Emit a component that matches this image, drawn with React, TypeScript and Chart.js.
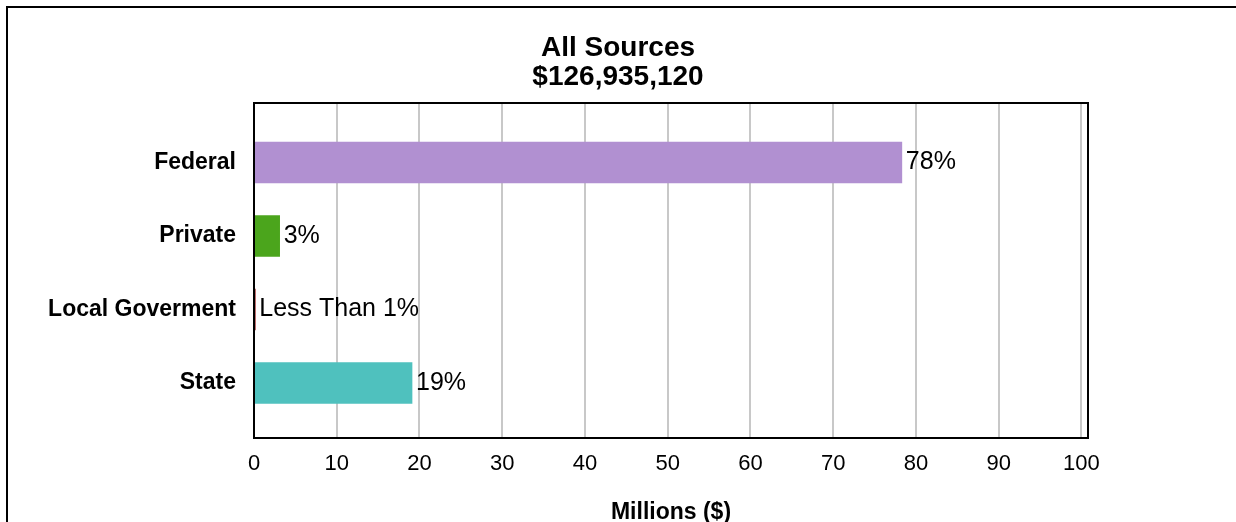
import React, { useEffect, useRef } from "react";
import { Chart, registerables } from "chart.js";

Chart.register(...registerables);

const categories = ["Federal", "Private", "Local Goverment", "State"];
const values = [78.3, 3.1, 0.15, 19.1];
const valueLabels = ["78%", "3%", "Less Than 1%", "19%"];
const barColors = ["#B190D1", "#4BA51C", "#8B0000", "#4FC1BE"];
const xTicks = [0, 10, 20, 30, 40, 50, 60, 70, 80, 90, 100];
const titleLines = ["All Sources", "$126,935,120"];
const xAxisTitle = "Millions ($)";

const FONT = "'Liberation Sans', Arial, sans-serif";

export default function App() {
  const ref = useRef<HTMLCanvasElement | null>(null);

  useEffect(() => {
    const canvas = ref.current;
    if (!canvas) return;

    const decor = {
      id: "decor",
      beforeDraw(chart: any) {
        const ctx = chart.ctx;
        ctx.save();
        ctx.fillStyle = "#ffffff";
        ctx.fillRect(0, 0, chart.width, chart.height);
        ctx.fillStyle = "#000000";
        ctx.fillRect(6, 6, chart.width, 2);
        ctx.fillRect(6, 6, 2, chart.height);
        ctx.restore();
      },
      afterDatasetsDraw(chart: any) {
        const ctx = chart.ctx;
        const a = chart.chartArea;
        ctx.save();
        ctx.strokeStyle = "#000000";
        ctx.lineWidth = 2;
        ctx.strokeRect(a.left, a.top, a.right - a.left, a.bottom - a.top);
        // data labels
        const meta = chart.getDatasetMeta(0);
        ctx.fillStyle = "#000000";
        ctx.font = `25px ${FONT}`;
        ctx.textAlign = "left";
        ctx.textBaseline = "middle";
        meta.data.forEach((bar: any, i: number) => {
          ctx.fillText(valueLabels[i], bar.x + 4, bar.y);
        });
        // title
        ctx.font = `bold 28px ${FONT}`;
        ctx.textAlign = "center";
        ctx.fillText(titleLines[0], chart.width / 2, 48);
        ctx.fillText(titleLines[1], chart.width / 2, 77);
        // x axis title
        ctx.font = `bold 23px ${FONT}`;
        ctx.fillText(xAxisTitle, (a.left + a.right) / 2, 513);
        ctx.restore();
      },
    };

    const chart = new Chart(canvas, {
      type: "bar",
      data: {
        datasets: [
          {
            data: values.map((v, i) => ({ x: v, y: i })),
            backgroundColor: barColors,
            borderWidth: 0,
            barThickness: 41,
          },
        ],
      },
      options: {
        indexAxis: "y",
        responsive: false,
        animation: false,
        layout: { padding: { left: 0, top: 103, right: 148, bottom: 0 } },
        plugins: {
          legend: { display: false },
          title: { display: false },
          tooltip: { enabled: false },
        },
        scales: {
          x: {
            type: "linear",
            min: 0,
            max: 100.8,
            afterBuildTicks: (scale: any) => {
              scale.ticks = xTicks.map((v) => ({ value: v }));
            },
            afterFit: (scale: any) => {
              scale.height = 84;
            },
            grid: {
              color: "#c8c8c8",
              lineWidth: 2,
              drawTicks: false,
            },
            border: { display: false },
            ticks: {
              color: "#000000",
              font: { family: FONT, size: 22 },
              padding: 13,
              maxRotation: 0,
              autoSkip: false,
            },
          },
          y: {
            type: "linear",
            reverse: true,
            offset: false,
            min: -0.81,
            max: 3.748,
            afterBuildTicks: (scale: any) => {
              scale.ticks = categories.map((_, i) => ({ value: i }));
            },
            afterFit: (scale: any) => {
              scale.width = 254;
            },
            grid: { display: false, drawTicks: false, offset: false },
            border: { display: false },
            ticks: {
              color: "#000000",
              font: { family: FONT, size: 23, weight: "bold" },
              padding: 18,
              autoSkip: false,
              callback: (v: any) => categories[v] ?? "",
            },
          },
        },
      },
      plugins: [decor],
    } as any);

    return () => chart.destroy();
  }, []);

  return (
    <div style={{ position: "fixed", left: 0, top: 0, width: 1236, height: 522 }}>
      <canvas ref={ref} width={1236} height={522} style={{ width: 1236, height: 522, display: "block" }} />
    </div>
  );
}
